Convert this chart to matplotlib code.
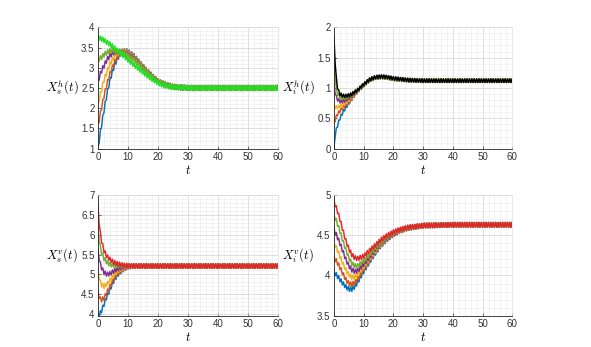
import numpy as np
import matplotlib
matplotlib.use("Agg")
import matplotlib.pyplot as plt
from matplotlib.ticker import MultipleLocator, FuncFormatter

plt.rcParams['font.family'] = ['Liberation Sans', 'DejaVu Sans']
plt.rcParams['mathtext.fontset'] = 'cm'

# matlab default line colours + last curve colour per panel
colors = ['#0072BD', '#D95319', '#EDB120', '#7E2F8E', '#77AC30']
last_colors = ['#22dd22', '#000000', '#e3262a', '#e3262a']

# read-off centre values of each curve (oscillation removed)
t_top_left = [0, 1, 2, 3, 4, 5, 6, 7, 8, 9, 10, 12, 14, 16, 18, 20, 22, 25, 30, 40, 60]
xsh_blue   = [1.00, 1.50, 1.95, 2.35, 2.70, 2.95, 3.15, 3.30, 3.38, 3.42, 3.40, 3.29, 3.12, 2.95, 2.80, 2.67, 2.60, 2.53, 2.50, 2.50, 2.50]
xsh_orange = [1.55, 1.95, 2.30, 2.60, 2.85, 3.05, 3.22, 3.33, 3.40, 3.40, 3.38, 3.27, 3.11, 2.95, 2.80, 2.67, 2.60, 2.53, 2.50, 2.50, 2.50]
xsh_yellow = [2.10, 2.40, 2.70, 2.90, 3.10, 3.23, 3.33, 3.38, 3.40, 3.39, 3.36, 3.25, 3.10, 2.94, 2.79, 2.67, 2.60, 2.53, 2.50, 2.50, 2.50]
xsh_purple = [2.65, 2.90, 3.05, 3.20, 3.30, 3.37, 3.40, 3.40, 3.38, 3.36, 3.33, 3.23, 3.08, 2.93, 2.79, 2.66, 2.59, 2.53, 2.50, 2.50, 2.50]
xsh_olive  = [3.20, 3.25, 3.32, 3.38, 3.42, 3.43, 3.42, 3.40, 3.37, 3.34, 3.30, 3.20, 3.06, 2.92, 2.78, 2.66, 2.59, 2.53, 2.50, 2.50, 2.50]
xsh_green  = [3.75, 3.72, 3.68, 3.63, 3.58, 3.52, 3.45, 3.39, 3.33, 3.27, 3.20, 3.07, 2.95, 2.83, 2.72, 2.63, 2.56, 2.52, 2.50, 2.50, 2.50]

t_top_right = [0, 0.3, 0.7, 1, 1.5, 2, 3, 4, 5, 6, 8, 10, 12, 14, 16, 18, 20, 25, 30, 40, 60]
xih_blue   = [0.00, 0.20, 0.30, 0.35, 0.43, 0.50, 0.60, 0.68, 0.75, 0.82, 0.95, 1.05, 1.13, 1.17, 1.18, 1.17, 1.15, 1.13, 1.12, 1.12, 1.12]
xih_orange = [0.40, 0.46, 0.52, 0.55, 0.59, 0.62, 0.68, 0.72, 0.77, 0.83, 0.95, 1.05, 1.13, 1.17, 1.18, 1.17, 1.15, 1.13, 1.12, 1.12, 1.12]
xih_yellow = [0.70, 0.69, 0.68, 0.68, 0.69, 0.70, 0.72, 0.76, 0.80, 0.85, 0.95, 1.05, 1.13, 1.17, 1.18, 1.17, 1.15, 1.13, 1.12, 1.12, 1.12]
xih_purple = [1.05, 0.95, 0.86, 0.82, 0.80, 0.78, 0.78, 0.80, 0.83, 0.87, 0.95, 1.05, 1.13, 1.17, 1.18, 1.17, 1.15, 1.13, 1.12, 1.12, 1.12]
xih_olive  = [1.45, 1.22, 1.02, 0.92, 0.88, 0.85, 0.83, 0.84, 0.86, 0.89, 0.96, 1.05, 1.13, 1.17, 1.18, 1.17, 1.15, 1.13, 1.12, 1.12, 1.12]
xih_black  = [1.82, 1.50, 1.20, 1.05, 0.95, 0.90, 0.87, 0.87, 0.88, 0.90, 0.97, 1.06, 1.14, 1.18, 1.19, 1.18, 1.16, 1.13, 1.12, 1.12, 1.12]

t_bot_left = [0, 0.5, 1, 2, 3, 4, 5, 6, 7, 8, 10, 12, 15, 20, 30, 60]
xsv_blue   = [3.97, 4.00, 4.05, 4.25, 4.45, 4.62, 4.80, 4.93, 5.03, 5.10, 5.19, 5.21, 5.21, 5.21, 5.21, 5.21]
xsv_orange = [4.55, 4.42, 4.35, 4.40, 4.55, 4.70, 4.85, 4.98, 5.06, 5.12, 5.19, 5.21, 5.21, 5.21, 5.21, 5.21]
xsv_yellow = [5.10, 4.88, 4.75, 4.70, 4.75, 4.85, 4.95, 5.05, 5.11, 5.15, 5.20, 5.21, 5.21, 5.21, 5.21, 5.21]
xsv_purple = [5.60, 5.35, 5.20, 5.05, 5.00, 5.02, 5.07, 5.12, 5.15, 5.18, 5.21, 5.21, 5.21, 5.21, 5.21, 5.21]
xsv_olive  = [6.15, 5.80, 5.60, 5.40, 5.30, 5.25, 5.23, 5.22, 5.22, 5.22, 5.21, 5.21, 5.21, 5.21, 5.21, 5.21]
xsv_red    = [6.70, 6.20, 5.90, 5.60, 5.45, 5.38, 5.32, 5.28, 5.26, 5.24, 5.22, 5.21, 5.21, 5.21, 5.21, 5.21]

t_bot_right = [0, 1, 2, 3, 4, 5, 6, 7, 8, 10, 12, 14, 16, 18, 20, 22, 25, 30, 40, 60]
xiv_blue   = [4.04, 4.00, 3.95, 3.90, 3.86, 3.83, 3.83, 3.86, 3.92, 4.05, 4.17, 4.28, 4.38, 4.45, 4.51, 4.55, 4.59, 4.62, 4.63, 4.63]
xiv_orange = [4.22, 4.17, 4.10, 4.02, 3.95, 3.90, 3.89, 3.91, 3.96, 4.08, 4.19, 4.30, 4.39, 4.46, 4.51, 4.55, 4.59, 4.62, 4.63, 4.63]
xiv_yellow = [4.40, 4.33, 4.24, 4.15, 4.07, 4.01, 3.98, 3.98, 4.01, 4.11, 4.21, 4.31, 4.40, 4.47, 4.52, 4.56, 4.59, 4.62, 4.63, 4.63]
xiv_purple = [4.57, 4.49, 4.40, 4.30, 4.20, 4.12, 4.07, 4.05, 4.06, 4.14, 4.23, 4.33, 4.41, 4.47, 4.52, 4.56, 4.59, 4.62, 4.63, 4.63]
xiv_olive  = [4.75, 4.66, 4.55, 4.43, 4.32, 4.22, 4.15, 4.12, 4.12, 4.18, 4.26, 4.35, 4.42, 4.48, 4.53, 4.56, 4.59, 4.62, 4.63, 4.63]
xiv_red    = [4.92, 4.82, 4.70, 4.56, 4.43, 4.33, 4.26, 4.22, 4.21, 4.24, 4.31, 4.38, 4.45, 4.50, 4.54, 4.57, 4.60, 4.62, 4.63, 4.63]

amps = [0.06, 0.028, 0.055, 0.028]
period = 0.8

panels = [
    (t_top_left, [xsh_blue, xsh_orange, xsh_yellow, xsh_purple, xsh_olive, xsh_green], r'$X_s^h(t)$', (1, 4)),
    (t_top_right, [xih_blue, xih_orange, xih_yellow, xih_purple, xih_olive, xih_black], r'$X_i^h(t)$', (0, 2)),
    (t_bot_left, [xsv_blue, xsv_orange, xsv_yellow, xsv_purple, xsv_olive, xsv_red], r'$X_s^v(t)$', (3.96, 7)),
    (t_bot_right, [xiv_blue, xiv_orange, xiv_yellow, xiv_purple, xiv_olive, xiv_red], r'$X_i^v(t)$', (3.5, 5)),
]

positions = [
    [0.1658, 0.5715, 0.3046, 0.3499],
    [0.5651, 0.5715, 0.3017, 0.3499],
    [0.1658, 0.0902, 0.3046, 0.3478],
    [0.5651, 0.0902, 0.3017, 0.3478],
]

fig = plt.figure(figsize=(5.91, 3.47), dpi=100)

tt = np.arange(0, 60 + 1e-9, period / 2)
sign = np.where(np.arange(len(tt)) % 2 == 0, 1.0, -1.0)

for k, (t_pts, curves, ylab, ylim) in enumerate(panels):
    ax = fig.add_axes(positions[k])
    for j, vals in enumerate(curves):
        c = colors[j] if j < 5 else last_colors[k]
        yy = np.interp(tt, t_pts, vals) + amps[k] * sign
        ax.plot(tt, yy, color=c, lw=1.05)
    ax.set_xlim(0, 60)
    ax.set_ylim(*ylim)
    ax.xaxis.set_major_locator(MultipleLocator(10))
    ax.xaxis.set_minor_locator(MultipleLocator(2))
    ax.yaxis.set_major_locator(MultipleLocator(0.5))
    ax.yaxis.set_minor_locator(MultipleLocator(0.1))
    ax.yaxis.set_major_formatter(FuncFormatter(lambda v, p: '%g' % v))
    ax.grid(True, which='major', color='#d9d9d9', lw=0.6)
    ax.grid(True, which='minor', color='#eeeeee', lw=0.5)
    ax.set_axisbelow(True)
    ax.tick_params(which='both', direction='in', labelsize=7, colors='#333333',
                   length=2, width=0.5, pad=2.5)
    ax.tick_params(which='minor', length=0)
    for side in ['left', 'bottom']:
        ax.spines[side].set_color('#262626')
        ax.spines[side].set_linewidth(0.6)
    for side in ['top', 'right']:
        ax.spines[side].set_color('#dddddd')
        ax.spines[side].set_linewidth(0.5)
    ax.set_xlabel(r'$t$', fontsize=9, labelpad=1)
    ax.set_ylabel(ylab, fontsize=9, rotation=0, ha='right', va='center', labelpad=2)

fig.savefig('out.png', dpi=100)
